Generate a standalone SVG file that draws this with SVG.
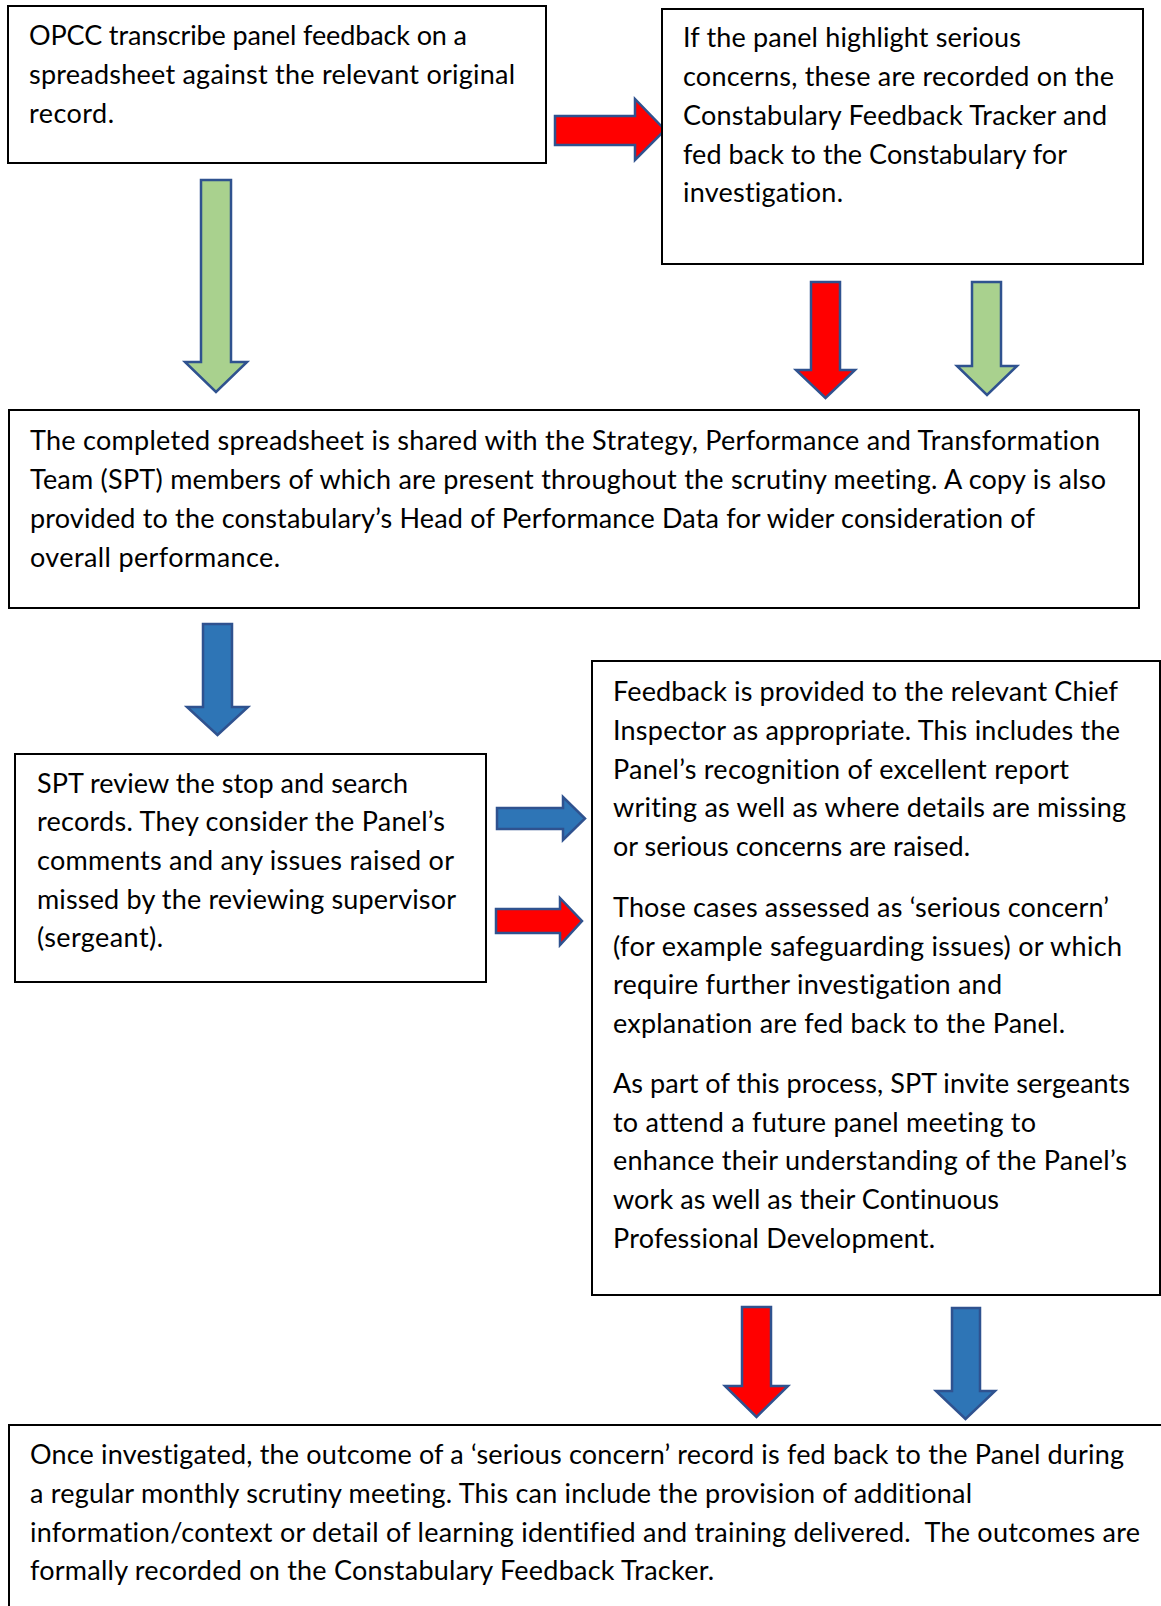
<svg xmlns="http://www.w3.org/2000/svg" width="1161" height="1606" viewBox="0 0 1161 1606">
<style>
.box{fill:#fff;stroke:#000;stroke-width:2}
.t{font-family:Lato,"Open Sans","Liberation Sans",sans-serif;font-size:27px;fill:#000;font-variant-ligatures:none}
.arr{stroke:#2F528F;stroke-width:2.5;stroke-linejoin:miter}
.red{fill:#FF0000}.green{fill:#A9D18E}.blue{fill:#2E75B6}
</style>
<rect width="1161" height="1606" fill="#fff"/>
<g id="connectors">
<path class="arr green" d="M201,180H231V362H247L216,392L185,362H201Z"/>
<path class="arr red" d="M555,116H635V99L665,130L635,160V145H555Z"/>
<path class="arr red" d="M811,282H840V370H855L825.5,398L796,370H811Z"/>
<path class="arr green" d="M972,282H1001V366H1017L987,395L957,366H972Z"/>
<path class="arr blue" d="M203,624H232V707H248L217.5,735L187,707H203Z"/>
<path class="arr blue" d="M497,808H563V797L585,818.5L563,840V829H497Z"/>
<path class="arr red" d="M496,909H560V898L582,921L560,945V933H496Z"/>
<path class="arr red" d="M742,1307H771V1386H788L756.5,1417L725,1386H742Z"/>
<path class="arr blue" d="M952,1308H980V1391H995L965.5,1419L936,1391H952Z"/>
</g>
<g id="node-opcc">
<rect class="box" x="8" y="6" width="538" height="157"/>
<text class="t" lengthAdjust="spacing"><tspan x="29" y="45" textLength="438">OPCC transcribe panel feedback on a</tspan><tspan x="29" y="84" textLength="486">spreadsheet against the relevant original</tspan><tspan x="29" y="123" textLength="85">record.</tspan></text>
</g>
<g id="node-concerns">
<rect class="box" x="662" y="9" width="481" height="255"/>
<text class="t" lengthAdjust="spacing"><tspan x="683" y="47" textLength="338">If the panel highlight serious</tspan><tspan x="683" y="86" textLength="431">concerns, these are recorded on the</tspan><tspan x="683" y="125" textLength="424">Constabulary Feedback Tracker and</tspan><tspan x="683" y="164" textLength="384">fed back to the Constabulary for</tspan><tspan x="683" y="202" textLength="160">investigation.</tspan></text>
</g>
<g id="node-spreadsheet">
<rect class="box" x="9" y="410" width="1130" height="198"/>
<text class="t" lengthAdjust="spacing"><tspan x="30" y="450" textLength="1070">The completed spreadsheet is shared with the Strategy, Performance and Transformation</tspan><tspan x="30" y="489" textLength="1076">Team (SPT) members of which are present throughout the scrutiny meeting. A copy is also</tspan><tspan x="30" y="528" textLength="1005">provided to the constabulary’s Head of Performance Data for wider consideration of</tspan><tspan x="30" y="567" textLength="250">overall performance.</tspan></text>
</g>
<g id="node-spt-review">
<rect class="box" x="15" y="754" width="471" height="228"/>
<text class="t" lengthAdjust="spacing"><tspan x="37" y="793" textLength="371">SPT review the stop and search</tspan><tspan x="37" y="831" textLength="408">records. They consider the Panel’s</tspan><tspan x="37" y="870" textLength="417">comments and any issues raised or</tspan><tspan x="37" y="909" textLength="419">missed by the reviewing supervisor</tspan><tspan x="37" y="947" textLength="126">(sergeant).</tspan></text>
</g>
<g id="node-feedback">
<rect class="box" x="592" y="661" width="568" height="634"/>
<text class="t" lengthAdjust="spacing"><tspan x="613" y="701" textLength="505">Feedback is provided to the relevant Chief</tspan><tspan x="613" y="740" textLength="507">Inspector as appropriate. This includes the</tspan><tspan x="613" y="779" textLength="456">Panel’s recognition of excellent report</tspan><tspan x="613" y="817" textLength="513">writing as well as where details are missing</tspan><tspan x="613" y="856" textLength="357">or serious concerns are raised.</tspan><tspan x="613" y="917" textLength="496">Those cases assessed as ‘serious concern’</tspan><tspan x="613" y="956" textLength="509">(for example safeguarding issues) or which</tspan><tspan x="613" y="994" textLength="389">require further investigation and</tspan><tspan x="613" y="1033" textLength="452">explanation are fed back to the Panel.</tspan><tspan x="613" y="1093" textLength="517">As part of this process, SPT invite sergeants</tspan><tspan x="613" y="1132" textLength="423">to attend a future panel meeting to</tspan><tspan x="613" y="1170" textLength="514">enhance their understanding of the Panel’s</tspan><tspan x="613" y="1209" textLength="386">work as well as their Continuous</tspan><tspan x="613" y="1248" textLength="322">Professional Development.</tspan></text>
</g>
<g id="node-outcome">
<rect class="box" x="9" y="1425" width="1160" height="200"/>
<text class="t" lengthAdjust="spacing"><tspan x="30" y="1464" textLength="1094">Once investigated, the outcome of a ‘serious concern’ record is fed back to the Panel during</tspan><tspan x="30" y="1503" textLength="942">a regular monthly scrutiny meeting. This can include the provision of additional</tspan><tspan x="30" y="1542" textLength="1110" xml:space="preserve">information/context or detail of learning identified and training delivered.  The outcomes are</tspan><tspan x="30" y="1580" textLength="684">formally recorded on the Constabulary Feedback Tracker.</tspan></text>
</g>
</svg>
